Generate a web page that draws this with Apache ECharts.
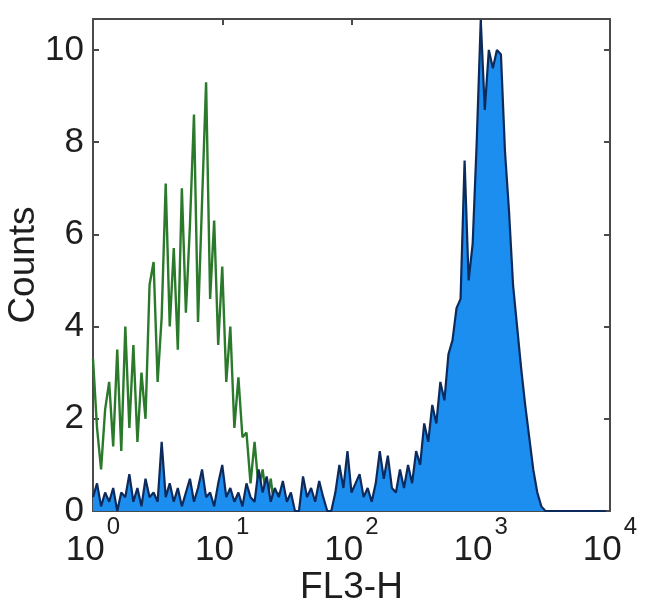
<!DOCTYPE html>
<html>
<head>
<meta charset="utf-8">
<script src="https://cdn.jsdelivr.net/npm/echarts@6/dist/echarts.min.js"></script>
<style>
html,body{margin:0;padding:0;background:#fff;}
#chart{width:650px;height:615px;}
</style>
</head>
<body>
<div id="chart"></div>
<script>
// Histogram channels: 32 channels per decade, 10^0 .. 10^4
const channelsPerDecade = 32;
const xTicks = [1, 10, 100, 1000, 10000];
const yTicks = [0, 2, 4, 6, 8, 10];

// Isotype control (green outline), channels 0..47
const greenCounts = [
  3.3, 1.8, 0.9, 2.2, 2.8, 1.4, 3.5, 1.3, 4.0, 1.8,
  3.6, 1.5, 3.0, 2.0, 4.9, 5.4, 2.8, 4.2, 7.1, 4.0,
  5.7, 3.5, 7.0, 4.3, 6.2, 8.6, 4.1, 6.7, 9.3, 4.6,
  6.3, 3.6, 5.3, 2.8, 4.0, 1.8, 2.9, 1.6, 1.7, 0.6,
  1.5, 0.5, 0.9, 0.2, 0.7, 0.0, 0.4, 0.0
];

// Stained sample (filled blue), channels 0..127
const blueCounts = [
  0.3, 0.6, 0.1, 0.4, 0.2, 0.5, 0.0, 0.4, 0.3, 0.8,
  0.2, 0.5, 0.1, 0.7, 0.3, 0.4, 0.2, 1.5, 0.3, 0.6,
  0.2, 0.5, 0.1, 0.4, 0.7, 0.2, 0.5, 0.9, 0.3, 0.4,
  0.1, 0.6, 1.0, 0.3, 0.5, 0.2, 0.4, 0.1, 0.6, 0.3,
  0.2, 0.9, 0.4, 0.75, 0.2, 0.5, 0.3, 0.65, 0.2, 0.4,
  0.0, 0.0, 0.75, 0.3, 0.5, 0.2, 0.65, 0.3, 0.0, 0.0,
  0.4, 1.0, 0.5, 1.3, 0.4, 0.6, 0.8, 0.3, 0.5, 0.2,
  0.6, 1.3, 0.7, 1.2, 0.5, 0.4, 0.9, 0.5, 1.0, 0.6,
  1.3, 1.0, 1.9, 1.5, 2.3, 1.9, 2.8, 2.4, 3.4, 3.7,
  4.4, 4.6, 7.6, 5.0, 5.8, 8.0, 10.65, 8.7, 10.0, 9.6,
  10.0, 9.9, 7.8, 6.5, 4.9, 4.0, 3.1, 2.3, 1.6, 0.9,
  0.4, 0.1, 0.0, 0.0, 0.0, 0.0, 0.0, 0.0, 0.0, 0.0,
  0.0, 0.0, 0.0, 0.0, 0.0, 0.0, 0.0, 0.0
];

function channelValue(i) { return Math.pow(10, i / channelsPerDecade); }
const greenData = greenCounts.map((c, i) => [channelValue(i), c]);
const blueData = blueCounts.map((c, i) => [channelValue(i), c]);

const FONT = 'Liberation Sans';
const TXT = '#1e1e1e';
const AX = '#4a4a4a';

const chart = echarts.init(document.getElementById('chart'), null, {renderer: 'canvas'});
chart.setOption({
  animation: false,
  backgroundColor: '#ffffff',
  grid: {left: 93, right: 40, top: 19, bottom: 104, containLabel: false, outerBoundsMode: 'none'},
  xAxis: [{
    type: 'log', logBase: 10, min: xTicks[0], max: xTicks[xTicks.length - 1],
    name: 'FL3-H', nameLocation: 'middle', nameGap: 58, nameMoveOverlap: false,
    nameTextStyle: {fontFamily: FONT, fontSize: 37, color: TXT},
    axisLine: {show: true, onZero: false, lineStyle: {color: AX, width: 2}},
    axisTick: {show: true, inside: true, length: 6, lineStyle: {color: AX, width: 2}},
    minorTick: {show: false},
    splitLine: {show: false},
    axisLabel: {
      margin: 4,
      formatter: v => {
        const e = Math.round(Math.log10(v));
        return '{b|10}{s|' + e + '}';
      },
      rich: {
        b: {fontFamily: FONT, fontSize: 35, color: TXT, lineHeight: 70},
        s: {fontFamily: FONT, fontSize: 24, color: TXT, lineHeight: 24, verticalAlign: 'top', padding: [0, 0, 0, 2]}
      }
    }
  }, {
    type: 'log', logBase: 10, min: xTicks[0], max: xTicks[xTicks.length - 1], position: 'top',
    axisLine: {show: true, onZero: false, lineStyle: {color: AX, width: 2}},
    axisTick: {show: true, inside: true, length: 6, lineStyle: {color: AX, width: 2}},
    axisLabel: {show: false}, splitLine: {show: false}
  }],
  yAxis: [{
    type: 'value', min: 0, max: 10.67, interval: 2,
    name: 'Counts', nameLocation: 'middle', nameGap: 51, nameRotate: 90, nameMoveOverlap: false,
    nameTextStyle: {fontFamily: FONT, fontSize: 37, color: TXT},
    axisLine: {show: true, onZero: false, lineStyle: {color: AX, width: 2}},
    axisTick: {show: true, inside: true, length: 6, lineStyle: {color: AX, width: 2}},
    splitLine: {show: false},
    axisLabel: {
      margin: 9, fontFamily: FONT, fontSize: 35, color: TXT, showMaxLabel: false,
      formatter: v => (yTicks.indexOf(Math.round(v * 100) / 100) >= 0 ? String(Math.round(v)) : '')
    }
  }, {
    type: 'value', min: 0, max: 10.67, interval: 2, position: 'right',
    axisLine: {show: true, onZero: false, lineStyle: {color: AX, width: 2}},
    axisTick: {show: true, inside: true, length: 6, lineStyle: {color: AX, width: 2}},
    axisLabel: {show: false}, splitLine: {show: false}
  }],
  series: [{
    name: 'Isotype', type: 'line', data: greenData, xAxisIndex: 0, yAxisIndex: 0,
    showSymbol: false, symbol: 'none', z: 2,
    lineStyle: {color: '#2b7a2b', width: 2.4}
  }, {
    name: 'Stained', type: 'line', data: blueData, xAxisIndex: 0, yAxisIndex: 0,
    showSymbol: false, symbol: 'none', z: 3,
    lineStyle: {color: '#0c2a5c', width: 2.2},
    areaStyle: {color: '#1b8ef0', opacity: 1}
  }]
});
</script>
</body>
</html>
